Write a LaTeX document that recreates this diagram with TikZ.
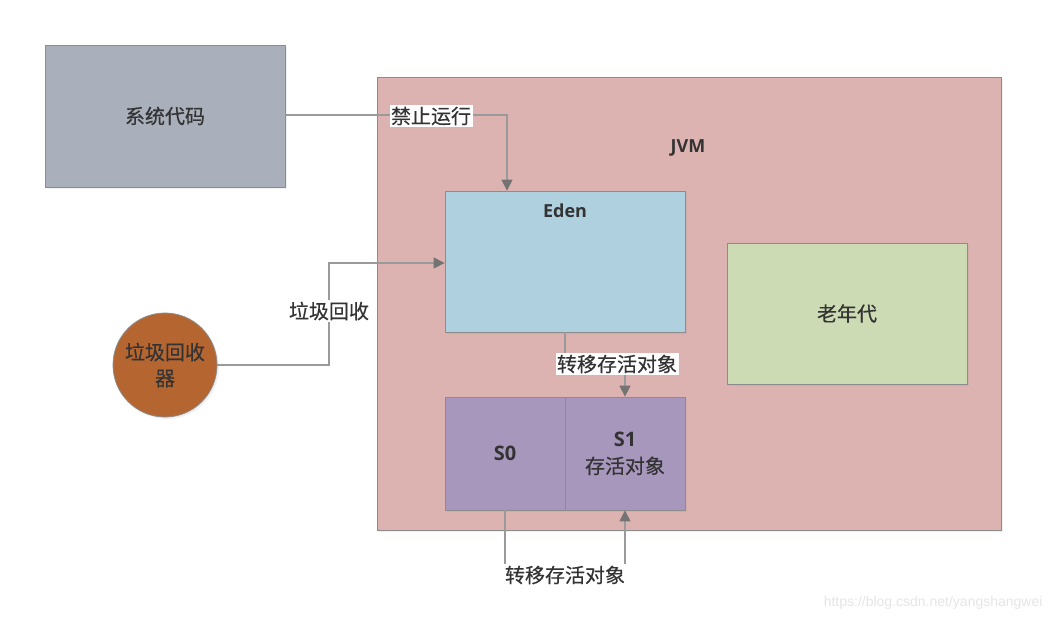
\documentclass[tikz,border=0pt]{standalone}
\usepackage{fontspec}
\setmainfont{Open Sans}
\newfontfamily\cjk[FakeBold=0.4]{Noto Sans CJK SC}
\usetikzlibrary{arrows.meta,shadows}
\definecolor{sysgray}{HTML}{A9AFBB}
\definecolor{jvmred}{HTML}{DDB3B2}
\definecolor{edenblue}{HTML}{AED0DF}
\definecolor{oldgreen}{HTML}{CCDBB4}
\definecolor{survpurple}{HTML}{A797BC}
\definecolor{gcbrown}{HTML}{B5652F}
\definecolor{edgegray}{HTML}{8C8C8C}
\definecolor{linegray}{HTML}{9A9A9A}
\definecolor{txt}{HTML}{333333}
\tikzset{
  box/.style={draw=edgegray, line width=0.8pt, inner sep=0pt, text=txt,
    font=\cjk\fontsize{20}{26}\selectfont,
    drop shadow={opacity=0.12, shadow xshift=2pt, shadow yshift=-2pt}},
  conn/.style={draw=linegray, line width=1.2pt, -{Triangle[length=11pt,width=11pt,fill=black!55,color=black!55]}},
  lbl/.style={fill=white, inner sep=1.5pt, text=txt, font=\cjk\fontsize{20}{24}\selectfont},
  latin/.style={text=txt, font=\fontsize{18}{22}\selectfont\bfseries},
}
\begin{document}
\begin{tikzpicture}[x=1pt,y=-1pt]
\useasboundingbox (0,0) rectangle (1056,622);
% system code
\node[box, fill=sysgray, minimum width=240pt, minimum height=142pt] (sys) at (165,116) {系统代码};
% JVM
\node[box, fill=jvmred, minimum width=624pt, minimum height=453pt] (jvm) at (689,303.5) {};
\node[latin] (jvmlbl) at (688,148) {JVM};
% Eden
\node[box, fill=edenblue, minimum width=240pt, minimum height=141pt] (eden) at (565,261.5) {};
\node[latin] (edenlbl) at (565,211) {Eden};
% old generation
\node[box, fill=oldgreen, minimum width=240pt, minimum height=141pt] (old) at (847,313.5) {老年代};
% survivors
\node[box, fill=survpurple, minimum width=120pt, minimum height=113pt] (s0) at (505,453.5) {\fontspec{Open Sans}\bfseries S0};
\node[box, fill=survpurple, minimum width=120pt, minimum height=113pt, align=center] (s1) at (625,453.5) {{\fontspec{Open Sans}\bfseries S1}\\[1pt]存活对象};
% GC circle
\node[box, circle, fill=gcbrown, minimum size=104pt, align=center] (gc) at (165,365) {垃圾回收\\器};
% watermark
\node[text=black!10, font=\fontspec{Liberation Sans}\fontsize{14}{16}\selectfont, anchor=east] (wm) at (1046,603) {https://blog.csdn.net/yangshangwei};
% connectors
\coordinate (c1) at (507,115);
\draw[conn] (sys.east |- c1) -- (c1) -- (c1 |- eden.north);
\node[lbl] (l1) at (431,116) {禁止运行};
\coordinate (c2a) at (329,365);
\coordinate (c2b) at (329,263);
\draw[conn] (gc.east) -- (c2a) -- (c2b) -- (c2b -| eden.west);
\node[lbl] (l2) at (329,311) {垃圾回收};
\coordinate (c3a) at (565,365);
\coordinate (c3b) at (625,365);
\draw[conn] (c3a |- eden.south) -- (c3a) -- (c3b) -- (c3b |- s1.north);
\node[lbl] (l3) at (617,364) {转移存活对象};
\coordinate (c4a) at (505,575);
\coordinate (c4b) at (625,575);
\draw[conn] (s0.south) -- (c4a) -- (c4b) -- (c4b |- s1.south);
\node[lbl] (l4) at (565,575) {转移存活对象};
\end{tikzpicture}
\end{document}
